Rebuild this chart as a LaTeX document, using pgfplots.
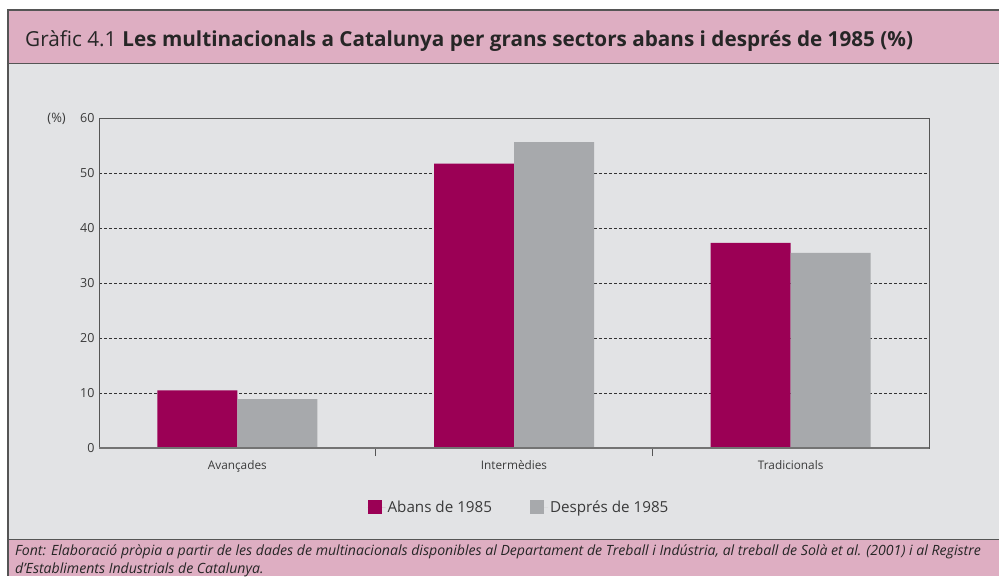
\documentclass[border=0pt]{standalone}
\usepackage{fontspec}
\setmainfont{Open Sans}
\usepackage{pgfplots}
\pgfplotsset{compat=1.18}
\definecolor{mag}{HTML}{9B0055}
\definecolor{barg}{HTML}{A7A9AC}
\definecolor{bgg}{HTML}{E2E3E5}
\definecolor{banner}{HTML}{DEAEC2}
\definecolor{frame}{HTML}{555555}
\definecolor{txt}{HTML}{3A3A3A}

\begin{document}
\begin{tikzpicture}[x=1pt,y=1pt]
\useasboundingbox (0,0) rectangle (999,-576);
\fill[white] (0,0) rectangle (999,-576);
\fill[banner] (8,-10) rectangle (999,-63);
\fill[bgg] (8,-63) rectangle (999,-539);
\fill[banner] (8,-539) rectangle (999,-576);
\draw[frame, line width=1.2pt] (999,-10) -- (8,-10) -- (8,-576);
\draw[frame, line width=1pt] (8,-63.5) -- (999,-63.5);
\draw[frame, line width=1pt] (8,-539) -- (999,-539);
\node[anchor=base west, inner sep=0, text=black!85, font=\fontsize{20.7}{24}\selectfont] at (25,-46)
  {Gràfic 4.1\hspace{6pt}\textbf{Les multinacionals a Catalunya per grans sectors abans i després de 1985 (\%)}};
\node[anchor=base west, inner sep=0, text=black!85, font=\fontsize{14.1}{18}\selectfont\itshape] at (15,-555)
  {Font: Elaboració pròpia a partir de les dades de multinacionals disponibles al Departament de Treball i Indústria, al treball de Solà et al. (2001) i al Registre};
\node[anchor=base west, inner sep=0, text=black!85, font=\fontsize{14.1}{18}\selectfont\itshape] at (15,-573)
  {d’Establiments Industrials de Catalunya.};
\node[anchor=base east, inner sep=0, text=txt, font=\fontsize{13}{15}\selectfont] at (66,-122) {(\%)};

\begin{axis}[
  scale only axis, width=830pt, height=330pt,
  at={(99pt,-448pt)}, anchor=south west,
  ybar=0pt, bar width=80pt,
  xmin=-0.5, xmax=2.5, ymin=0, ymax=60,
  ytick={0,10,...,60},
  xtick={0.5,1.5}, xticklabels={},
  extra x ticks={0,1,2},
  extra x tick labels={Avançades,Intermèdies,Tradicionals},
  extra x tick style={major tick length=0pt},
  tick align=outside, major tick length=8pt,
  xtick pos=bottom, ytick pos=left,
  xtick style={draw=frame, line width=0.8pt},
  ytick style={draw=none},
  ymajorgrids,
  grid style={black!80, line width=0.7pt, dash pattern=on 3pt off 2pt},
  axis line style={draw=frame, line width=0.8pt},
  /pgf/number format/assume math mode=true,
  tick label style={text=txt, font=\fontsize{12.5}{14}\selectfont},
  yticklabel style={xshift=7pt},
  xticklabel style={yshift=-9pt, font=\fontsize{11.8}{14}\selectfont},
  legend style={at={(0.506,-0.179)}, anchor=center, draw=none, fill=none,
    legend columns=-1, font=\fontsize{15.2}{17}\selectfont, text=txt,
    /tikz/every even column/.append style={column sep=36pt}},
]
\addplot[fill=mag, draw=none, legend image code/.code={\fill[mag] (0pt,-7pt) rectangle (14pt,7pt); \path (0pt,0pt) -- (18pt,0pt);}]
  coordinates {(0,10.5) (1,51.7) (2,37.3)};
\addplot[fill=barg, draw=none, legend image code/.code={\fill[barg] (0pt,-7pt) rectangle (14pt,7pt); \path (0pt,0pt) -- (18pt,0pt);}]
  coordinates {(0,8.9) (1,55.6) (2,35.5)};
\legend{Abans de 1985, Després de 1985}
\draw[black!55, line width=2pt] (rel axis cs:0,0) -- (rel axis cs:1,0);
\end{axis}
\end{tikzpicture}
\end{document}
